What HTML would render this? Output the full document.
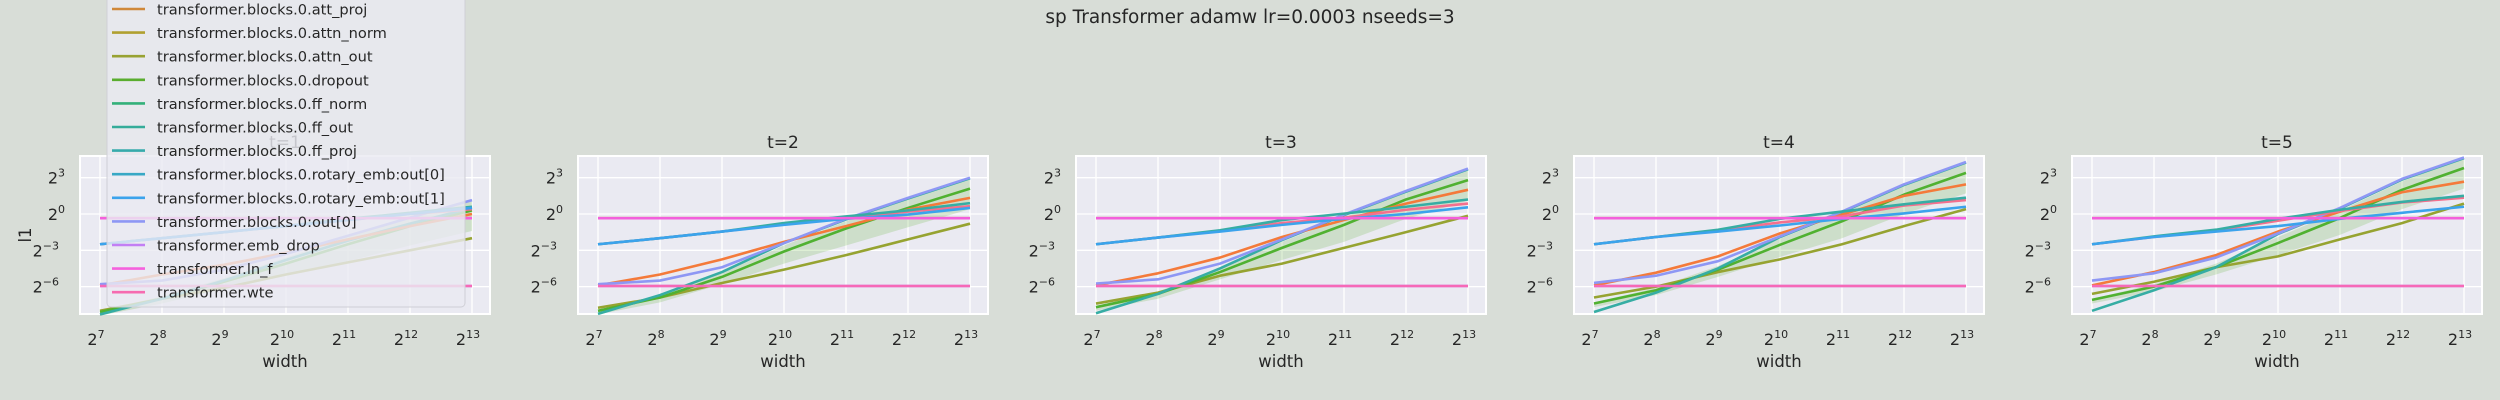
<!DOCTYPE html>
<html><head><meta charset="utf-8"><style>
html,body{margin:0;padding:0;background:#d8ddd7;}
svg{display:block;font-family:"DejaVu Sans","Liberation Sans",sans-serif;}
</style></head><body>
<svg id="fig" width="2500" height="400" viewBox="0 0 2500 400" xmlns="http://www.w3.org/2000/svg">
<rect width="2500" height="400" fill="#d8ddd7"/>
<text x="1250" y="23" text-anchor="middle" font-size="18.5" fill="#262626">sp Transformer adamw lr=0.0003 nseeds=3</text>
<g id="panels"></g>
<g id="legend"></g>
</svg>
<script>
const xExps = [7, 8, 9, 10, 11, 12, 13];
const yTickExps = [3, 0, -3, -6];
const panelTitles = ["t=1", "t=2", "t=3", "t=4", "t=5"];
const orangeVals = [
  [-5.9,-5.0,-4.2,-3.2,-2.1,-1.0,0.0],
  [-5.9,-5.0,-3.75,-2.3,-1.0,0.36,1.33],
  [-5.9,-4.9,-3.6,-1.9,-0.5,0.86,2.0],
  [-5.9,-4.85,-3.5,-1.6,-0.05,1.5,2.45],
  [-5.9,-4.8,-3.4,-1.45,0.2,1.8,2.67]];
const out0Vals = [
  [-5.8,-5.5,-4.6,-3.3,-1.8,-0.3,1.15],
  [-5.8,-5.5,-4.4,-2.4,-0.4,1.33,3.0],
  [-5.75,-5.4,-4.1,-2.1,-0.05,1.9,3.75],
  [-5.7,-5.1,-3.9,-1.85,0.2,2.45,4.3],
  [-5.5,-4.9,-3.6,-1.6,0.5,2.9,4.67]];
const dropoutVals = [
  [-8.1,-7.0,-5.6,-4.1,-2.5,-1.0,0.3],
  [-8.0,-6.9,-5.2,-3.1,-1.2,0.5,2.1],
  [-7.7,-6.6,-4.8,-2.8,-0.9,1.2,2.8],
  [-7.4,-6.3,-4.6,-2.55,-0.6,1.6,3.4],
  [-7.1,-6.0,-4.4,-2.4,-0.33,2.0,3.8]];
const bandHiOffset = [0.1,0.2,0.3,0.5,0.6,0.7,0.8];
const bandLoOffset = [0.3,0.4,0.6,1.0,1.4,1.6,1.7];
const ffLowVals = [
  [-8.3,-7.0,-5.5,-3.8,-2.2,-0.8,0.5],
  [-8.25,-6.7,-4.8,-2.4,-0.45,1.28,2.95],
  [-8.2,-6.6,-4.5,-2.15,-0.1,1.85,3.7],
  [-8.1,-6.5,-4.5,-1.9,0.15,2.4,4.25],
  [-8.0,-6.3,-4.4,-1.65,0.45,2.85,4.62]];
const attnOutVals = [
  [-8.0,-7.0,-6.1,-5.0,-4.0,-3.0,-2.0],
  [-7.75,-6.9,-5.7,-4.6,-3.4,-2.1,-0.8],
  [-7.4,-6.5,-5.1,-4.1,-2.8,-1.5,-0.15],
  [-6.9,-6.0,-4.8,-3.75,-2.5,-1.0,0.4],
  [-6.6,-5.6,-4.4,-3.5,-2.1,-0.75,0.86]];
const ffHighVals = [
  [-2.5,-2.0,-1.5,-1.0,-0.4,0.1,0.6],
  [-2.5,-2.0,-1.45,-0.75,-0.2,0.3,0.9],
  [-2.5,-1.95,-1.35,-0.5,0.03,0.6,1.2],
  [-2.5,-1.9,-1.3,-0.4,0.2,0.8,1.35],
  [-2.5,-1.85,-1.3,-0.4,0.35,1.0,1.5]];
const pinkHighVals = [
  [-2.5,-2.0,-1.5,-1.0,-0.5,0.0,0.4],
  [-2.5,-2.0,-1.45,-0.85,-0.35,0.2,0.65],
  [-2.5,-1.95,-1.4,-0.75,-0.3,0.35,0.86],
  [-2.5,-1.9,-1.35,-0.7,-0.2,0.7,1.15],
  [-2.5,-1.9,-1.35,-0.55,0.25,0.95,1.35]];
const rotaryVals = [
  [-2.5,-2.0,-1.5,-1.0,-0.5,0.0,0.5],
  [-2.5,-2.0,-1.45,-0.9,-0.4,-0.05,0.5],
  [-2.5,-1.95,-1.45,-0.9,-0.4,0.0,0.55],
  [-2.5,-1.9,-1.45,-0.95,-0.4,0.05,0.6],
  [-2.5,-1.9,-1.45,-1.0,-0.4,0.1,0.6]];
const flatHighVals = [-0.35,-0.35,-0.35,-0.35,-0.35];
const flatLowVals = [-5.95,-5.95,-5.95,-5.95,-5.95];
const legendNames = ["transformer.blocks.0","transformer.blocks.0.att","transformer.blocks.0.att_proj","transformer.blocks.0.attn_norm","transformer.blocks.0.attn_out","transformer.blocks.0.dropout","transformer.blocks.0.ff_norm","transformer.blocks.0.ff_out","transformer.blocks.0.ff_proj","transformer.blocks.0.rotary_emb:out[0]","transformer.blocks.0.rotary_emb:out[1]","transformer.blocks.0:out[0]","transformer.emb_drop","transformer.ln_f","transformer.wte"];
const legendColors = ["#f77189","#f0763c","#d0883a","#b0a030","#98a232","#5aad2f","#33b07a","#35ac9a","#37abab","#38a8c5","#3ba3ec","#8e97f4","#c27ff4","#f561dd","#f66bb0"];

const NS = "http://www.w3.org/2000/svg";
function mk(tag, attrs, parent){const e=document.createElementNS(NS,tag);for(const k in attrs)e.setAttribute(k,attrs[k]);if(parent)parent.appendChild(e);return e;}
const P_LEFT0=80, P_STEP=498, P_W=410, P_TOP=156, P_BOT=314;
const Y0PX=214, PX_PER_UNIT=12.1;
function yScale(v){return Y0PX - v*PX_PER_UNIT;}
function xScale(panel, e){return P_LEFT0 + panel*P_STEP + 20 + (e-7)*62;}

const panelsG = document.getElementById('panels');
for(let p=0;p<5;p++){
  const g = mk('g',{},panelsG);
  
  
  const L = P_LEFT0 + p*P_STEP;
  const bg = mk('rect',{x:L,y:P_TOP,width:P_W,height:P_BOT-P_TOP,fill:'#eaeaf2',stroke:'#ffffff','stroke-width':2},g);
  
  
  xExps.forEach(e=>{
    const x=xScale(p,e);
    const gl=mk('line',{x1:x,x2:x,y1:P_TOP,y2:P_BOT,stroke:'#fff','stroke-width':1.3},g);
    
    
    const t=mk('text',{x:x-4,y:345,'text-anchor':'middle','font-size':16,fill:'#262626'},g);
    
    
    t.textContent='2';
    const s=mk('tspan',{dy:-7,'font-size':11},t); s.textContent=String(e);
  });
  yTickExps.forEach(e=>{
    const y=yScale(e);
    const gl=mk('line',{x1:L,x2:L+P_W,y1:y,y2:y,stroke:'#fff','stroke-width':1.3},g);
    
    
    const t=mk('text',{x:L-8-(e<0?13:7),y:y+6,'text-anchor':'end','font-size':16,fill:'#262626'},g);
    
    
    t.textContent='2';
    const s=mk('tspan',{dy:-7,'font-size':11},t); s.textContent=String(e).replace('-','\u2212');
  });
  const tt=mk('text',{x:L+P_W/2,y:148,'text-anchor':'middle','font-size':17,fill:'#262626'},g);
  
  
  tt.textContent=panelTitles[p];
  const xl=mk('text',{x:L+P_W/2,y:367,'text-anchor':'middle','font-size':16.5,fill:'#262626'},g);
  
  
  xl.textContent='width';
  let top='',bot='';
  xExps.forEach((e,i)=>{top+=(i?'L':'M')+xScale(p,e)+','+yScale(dropoutVals[p][i]+bandHiOffset[i]);});
  for(let i=xExps.length-1;i>=0;i--){bot+='L'+xScale(p,xExps[i])+','+yScale(dropoutVals[p][i]-bandLoOffset[i]);}
  const band=mk('path',{d:top+bot+'Z',fill:'#5aad2f','fill-opacity':0.2,stroke:'none'},g);
  
  
  const series=[
    ['attn-norm-line',[flatHighVals[p],flatHighVals[p]],'#b0a030',true],
    ['emb-drop-line',[flatLowVals[p],flatLowVals[p]],'#c27ff4',true],
    ['attn-out-line',attnOutVals[p],'#96a331'],
    ['dropout-line',dropoutVals[p],'#50b131'],
    ['ff-proj-line',ffLowVals[p],'#36ada4'],
    ['att-proj-line',orangeVals[p],'#f47a3a'],
    ['out0-line',out0Vals[p],'#8e97f4'],
    ['blocks0-line',pinkHighVals[p],'#f4708e'],
    ['ff-out-line',ffHighVals[p],'#36ada4'],
    ['rotary-emb-line',rotaryVals[p],'#3ba3ec'],
    ['ln-f-line',[flatHighVals[p],flatHighVals[p]],'#f35fdc',true],
    ['wte-line',[flatLowVals[p],flatLowVals[p]],'#f669b7',true]
  ];
  series.forEach(([name,vals,col,flat])=>{
    let d='';
    if(flat){d='M'+xScale(p,7)+','+yScale(vals[0])+'L'+xScale(p,13)+','+yScale(vals[1]);}
    else vals.forEach((v,i)=>{d+=(i?'L':'M')+xScale(p,xExps[i])+','+yScale(v);});
    const ln=mk('path',{d:d,fill:'none',stroke:col,'stroke-width':2.6,'stroke-linejoin':'round'},g);
    
    
  });
}
const yl=mk('text',{x:0,y:0,'text-anchor':'middle','font-size':16.5,fill:'#262626',transform:'translate(31,235) rotate(-90)'},panelsG);


yl.textContent='l1';

const lg=document.getElementById('legend');
const box=mk('rect',{x:107,y:-60,width:358,height:367,rx:4,fill:'#eaeaf2','fill-opacity':0.82,stroke:'#cfcfd6','stroke-width':1},lg);


legendNames.forEach((n,i)=>{
  const y=9+(i-2)*23.6;
  const eg=mk('g',{},lg);
  
  
  mk('line',{x1:112,x2:145,y1:y,y2:y,stroke:legendColors[i],'stroke-width':2.6},eg);
  const t=mk('text',{x:157,y:y+5.5,'font-size':14.6,fill:'#262626'},eg);
  t.textContent=n;
});
</script>
</body></html>
